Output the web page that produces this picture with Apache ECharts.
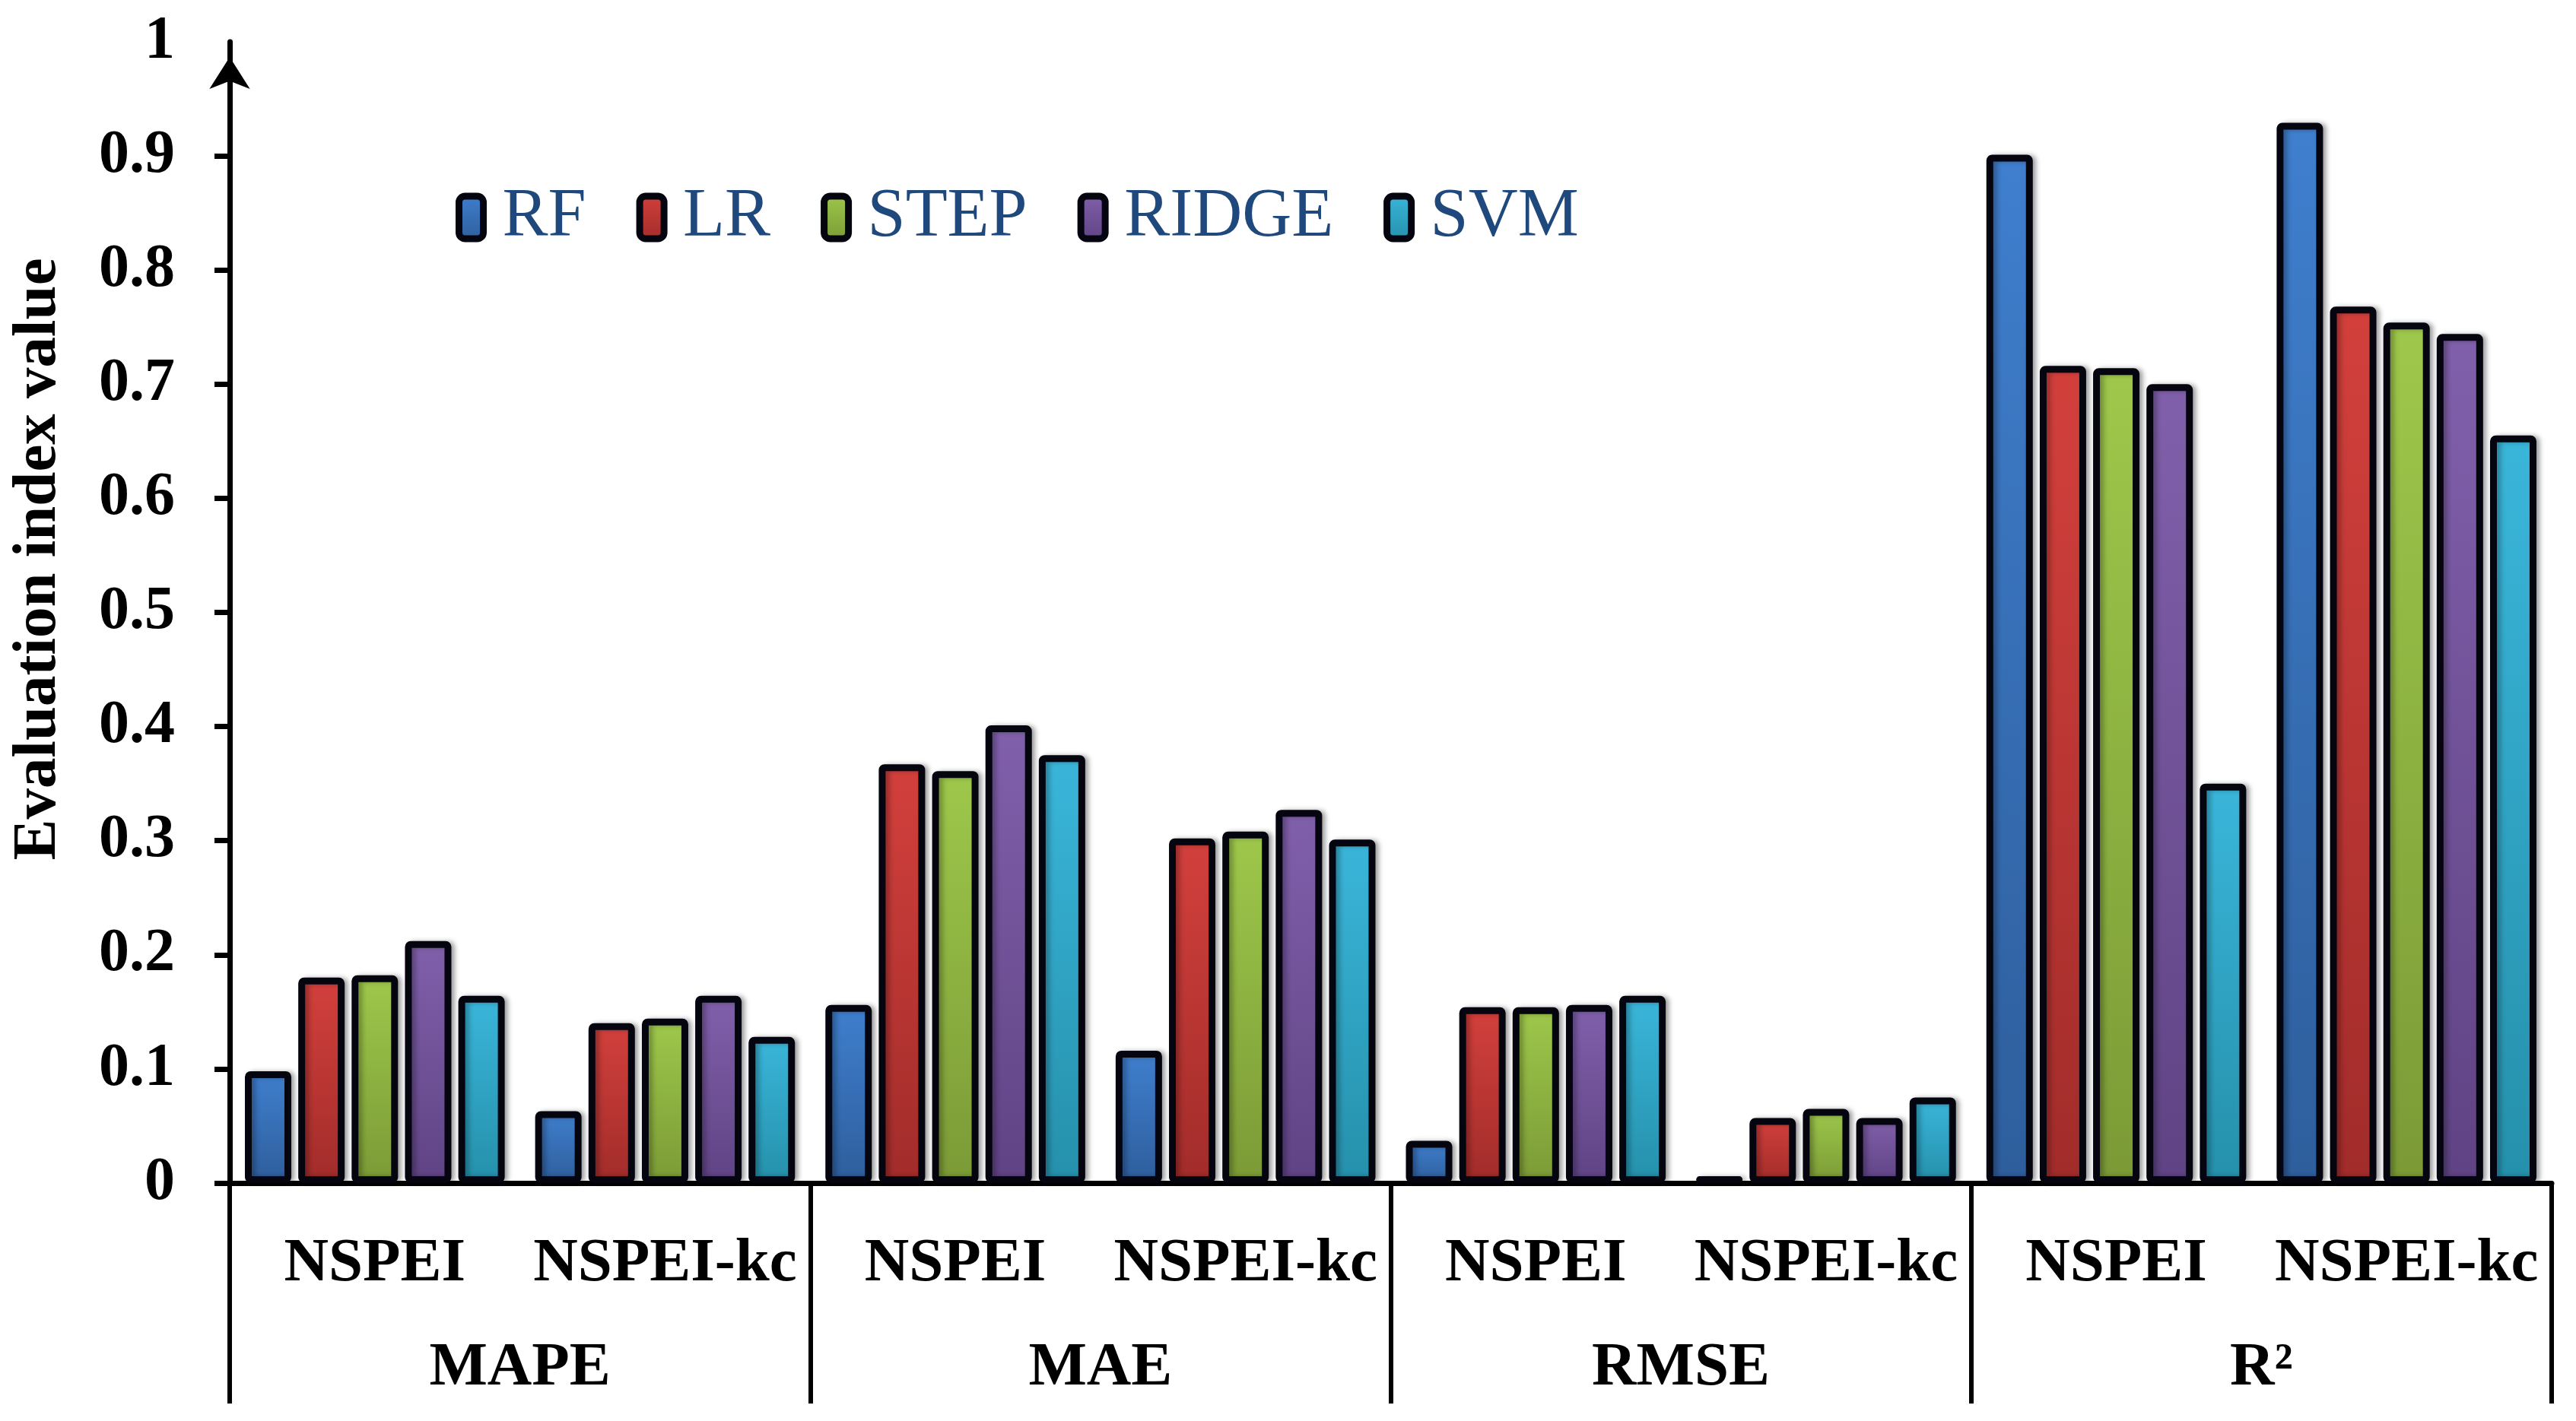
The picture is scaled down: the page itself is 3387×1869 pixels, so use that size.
<!DOCTYPE html>
<html>
<head>
<meta charset="utf-8">
<script src="https://cdn.jsdelivr.net/npm/echarts@6/dist/echarts.min.js"></script>
<style>
  html, body { margin: 0; padding: 0; background: #fff; }
  #chart { width: 3387px; height: 1869px; }
</style>
</head>
<body>
<div id="chart"></div>
<script>
// categories (two per index group) and the index groups
const categories = ["NSPEI", "NSPEI-kc", "NSPEI", "NSPEI-kc", "NSPEI", "NSPEI-kc", "NSPEI", "NSPEI-kc"];
const groups = ["MAPE", "MAE", "RMSE", "R²"];
const seriesNames = ["RF", "LR", "STEP", "RIDGE", "SVM"];

// values
const rf    = [0.098, 0.063, 0.156, 0.116, 0.037, 0.006, 0.901, 0.929];
const lr    = [0.180, 0.140, 0.367, 0.302, 0.154, 0.057, 0.716, 0.768];
const step  = [0.182, 0.144, 0.361, 0.308, 0.154, 0.065, 0.714, 0.754];
const ridge = [0.212, 0.164, 0.401, 0.327, 0.156, 0.057, 0.700, 0.744];
const svm   = [0.164, 0.128, 0.375, 0.301, 0.164, 0.075, 0.350, 0.655];

// y axis ticks / labels (no tick at 1, the arrow sits there)
const yTicks  = [0, 0.1, 0.2, 0.3, 0.4, 0.5, 0.6, 0.7, 0.8, 0.9];
const yLabels = [0, 0.1, 0.2, 0.3, 0.4, 0.5, 0.6, 0.7, 0.8, 0.9, 1];

const values = [rf, lr, step, ridge, svm];
// top / bottom colour of each bar gradient
const colors = [
  ["#3f7fce", "#2e5e9c"],
  ["#d3403c", "#a12c2a"],
  ["#9ec84b", "#7b9a36"],
  ["#8160ab", "#5f4384"],
  ["#3ab6da", "#2590ab"]
];

const font = "'Liberation Serif', 'Times New Roman', serif";

let chart = echarts.init(document.getElementById("chart"));

let series = [];
for (let i = 0; i < seriesNames.length; i++) {
  series.push({
    name: seriesNames[i],
    type: "bar",
    xAxisIndex: 0,
    barWidth: 61,
    barGap: "15%",
    itemStyle: {
      color: new echarts.graphic.LinearGradient(0, 0, 0, 1, [
        { offset: 0, color: colors[i][0] },
        { offset: 1, color: colors[i][1] }
      ]),
      borderColor: "#050510",
      borderWidth: 9,
      borderRadius: 3,
      shadowColor: "rgba(0, 0, 0, 0.28)",
      shadowBlur: 6,
      shadowOffsetX: 5,
      shadowOffsetY: 0
    },
    data: values[i]
  });
}

let option = {
  backgroundColor: "#fff",
  animation: false,
  legend: {
    data: seriesNames,
    left: 594,
    top: 236,
    icon: "roundRect",
    itemWidth: 32,
    itemHeight: 56,
    itemGap: 66,
    itemStyle: {
      borderColor: "#050510",
      borderWidth: 9,
      shadowBlur: 0
    },
    textStyle: {
      fontFamily: font,
      fontSize: 90,
      color: "#1f497d",
      padding: [0, 0, 0, 20]
    }
  },
  grid: {
    left: 302,
    right: 32,
    top: 55,
    bottom: 313,
    containLabel: false
  },
  xAxis: [
    {
      type: "category",
      data: categories,
      position: "bottom",
      axisLine: { show: false },
      axisTick: { show: false },
      axisLabel: {
        interval: 0,
        margin: 67,
        fontFamily: font,
        fontWeight: "bold",
        fontSize: 81,
        color: "#000"
      }
    },
    {
      type: "category",
      data: groups,
      position: "bottom",
      axisLine: { show: true, lineStyle: { color: "#000", width: 7 } },
      axisTick: { show: true, length: 290, lineStyle: { color: "#000", width: 6 } },
      axisLabel: {
        interval: 0,
        margin: 204,
        fontFamily: font,
        fontWeight: "bold",
        fontSize: 81,
        color: "#000"
      }
    }
  ],
  yAxis: {
    type: "value",
    min: 0,
    max: 1,
    name: "Evaluation index value",
    nameLocation: "middle",
    nameGap: 210,
    nameTextStyle: {
      fontFamily: font,
      fontWeight: "bold",
      fontSize: 81,
      color: "#000",
      padding: [0, 0, 0, 140]
    },
    axisLine: {
      show: true,
      symbol: ["none", "arrow"],
      symbolSize: [40, 42],
      symbolOffset: [0, -20],
      lineStyle: { color: "#000", width: 7 }
    },
    axisTick: {
      show: true,
      inside: false,
      length: 20,
      customValues: yTicks,
      lineStyle: { color: "#000", width: 7 }
    },
    axisLabel: {
      margin: 72,
      customValues: yLabels,
      fontFamily: font,
      fontWeight: "bold",
      fontSize: 80,
      color: "#000"
    },
    splitLine: { show: false }
  },
  series: series
};

chart.setOption(option, true);
</script>
</body>
</html>
